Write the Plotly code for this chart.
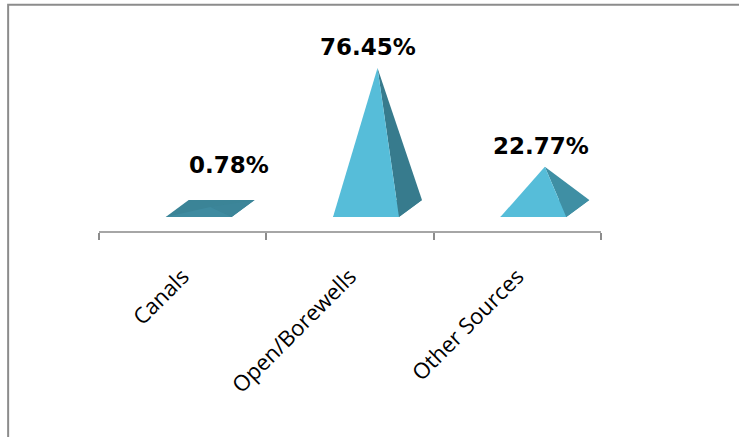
import plotly.graph_objects as go

# ---- data ----
categories = ["Canals", "Open/Borewells", "Other Sources"]
values = [0.78, 76.45, 22.77]
value_labels = ["0.78%", "76.45%", "22.77%"]

# ---- style / geometry (in axis units) ----
FRONT_OFF = 0.0956   # front face centre offset from category centre
HALF_W = 0.197       # half width of base
DEPTH_X = 0.1375     # perspective depth in x units
DEPTH_Y = 9.25       # perspective depth in y units
LIGHT = (86, 189, 217)
DARK = (59, 132, 151)
SIDE_DARK = (55, 123, 141)
SIDE_MID = (63, 143, 164)
label_xshift = [19, -10, -4]
label_yshift = [42, 21, 21]


def mix(c1, c2, t):
    return "rgb(%d,%d,%d)" % tuple(round(a + (b - a) * t) for a, b in zip(c1, c2))


fig = go.Figure()
for i, (cat, v) in enumerate(zip(categories, values)):
    xc = i + FRONT_OFF
    fl, fr = xc - HALF_W, xc + HALF_W
    bl, br = fl + DEPTH_X, fr + DEPTH_X
    ax = xc + DEPTH_X / 2
    ay = DEPTH_Y / 2 + v
    t = min(1.0, v / 6.0)
    # base footprint
    fig.add_trace(go.Scatter(x=[fl, fr, br, bl, fl], y=[0, 0, DEPTH_Y, DEPTH_Y, 0],
                             fill="toself", fillcolor=mix(DARK, DARK, 0), mode="lines",
                             line=dict(width=0), hoverinfo="skip", showlegend=False))
    # right face
    fig.add_trace(go.Scatter(x=[fr, br, ax, fr], y=[0, DEPTH_Y, ay, 0],
                             fill="toself", fillcolor=mix(DARK, SIDE_DARK if v > 50 else SIDE_MID, t),
                             mode="lines", line=dict(width=0), hoverinfo="skip", showlegend=False))
    # front face
    fig.add_trace(go.Scatter(x=[fl, fr, ax, fl], y=[0, 0, ay, 0],
                             fill="toself", fillcolor=mix(DARK, LIGHT, t), mode="lines",
                             line=dict(width=0), name=cat, showlegend=False))
    fig.add_annotation(x=ax, y=ay, text=value_labels[i], showarrow=False,
                       xshift=label_xshift[i], yshift=label_yshift[i], yanchor="middle",
                       font=dict(family="DejaVu Sans", size=23, color="black", weight="bold"))

fig.update_layout(
    width=739, height=437,
    margin=dict(l=99, r=138, t=30, b=206),
    paper_bgcolor="white", plot_bgcolor="white",
    xaxis=dict(range=[-0.5, 2.5], showgrid=False, zeroline=False,
               showline=True, linecolor="#a6a6a6", linewidth=2,
               tickmode="array", tickvals=[0, 1, 2], ticktext=categories,
               ticks="", tickangle=-45, ticklabelstandoff=22,
               tickfont=dict(family="Open Sans", size=22, color="black"),
               minor=dict(tickmode="array", tickvals=[-0.5, 0.5, 1.5, 2.5], ticks="outside",
                          ticklen=7, tickwidth=2, tickcolor="#8c8c8c", showgrid=False)),
    yaxis=dict(range=[-7.6, 101.7], visible=False),
    shapes=[dict(type="rect", xref="paper", yref="paper", x0=-0.181, x1=2, y0=-2, y1=1.126,
                 line=dict(color="#8c8c8c", width=2), fillcolor="rgba(0,0,0,0)", layer="below")],
)
fig.write_html("out.html")
